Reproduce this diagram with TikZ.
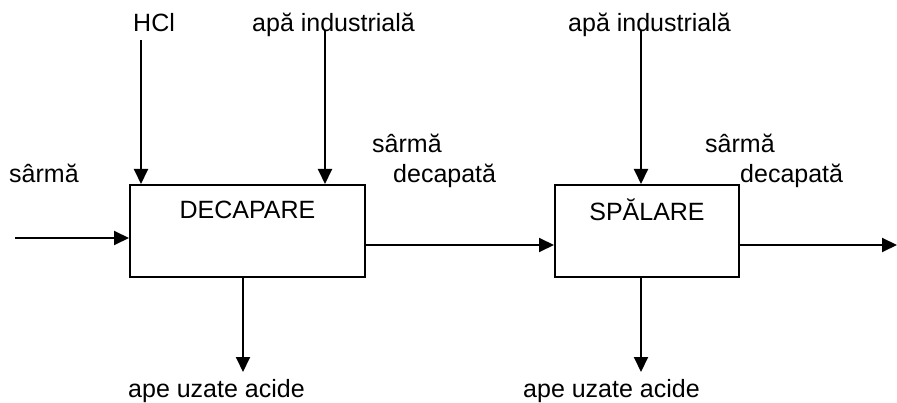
\documentclass[tikz,border=0pt]{standalone}
\usepackage{fontspec}
\setmainfont{Liberation Sans}
\usetikzlibrary{arrows.meta}
\begin{document}
\begin{tikzpicture}[x=1pt,y=-1pt,
  lbl/.style={inner sep=0pt,anchor=base west,font=\fontsize{25}{30}\selectfont},
  proc/.style={draw,line width=2pt,minimum width=235pt,minimum height=92pt,inner sep=0pt},
  flow/.style={line width=2pt,-{Triangle[length=15pt,width=14pt]}}]
\useasboundingbox (0,0) rectangle (897,403);
% boxes
\node[proc] (dec) at (247.5,231) {};
\node[proc,minimum width=184pt] (spa) at (647,231) {};
\node[lbl,anchor=base] (dect) at (247.5,219) {DECAPARE};
\node[lbl,anchor=base] (spat) at (647,221) {SPĂLARE};
% labels
\node[lbl] (hcl) at (133,32) {HCl};
\node[lbl] (apa1) at (252,32) {apă industrială};
\node[lbl] (apa2) at (568,32) {apă industrială};
\node[lbl] (sin) at (9,183) {sârmă};
\node[lbl] (s1a) at (372,153) {sârmă};
\node[lbl] (s1b) at (393,183) {decapată};
\node[lbl] (s2a) at (705,153) {sârmă};
\node[lbl] (s2b) at (740,183) {decapată};
\node[lbl] (au1) at (128,397) {ape uzate acide};
\node[lbl] (au2) at (523,397) {ape uzate acide};
% coordinates
\coordinate (hclS) at (141,40);
\coordinate (apa1S) at (325,30);
\coordinate (apa2S) at (641,30);
\coordinate (inS) at (15,238);
\coordinate (outE) at (897,245);
\coordinate (au1E) at (243,372);
\coordinate (au2E) at (641,372);
% arrows
\draw[flow] (hclS) -- (hclS |- dec.north);
\draw[flow] (apa1S) -- (apa1S |- dec.north);
\draw[flow] (apa2S) -- (apa2S |- spa.north);
\draw[flow] (inS) -- (inS -| dec.west);
\draw[flow] (dec.east |- 0,245) -- (spa.west |- 0,245);
\draw[flow] (spa.east |- 0,245) -- (outE);
\draw[flow] (au1E |- dec.south) -- (au1E);
\draw[flow] (au2E |- spa.south) -- (au2E);
\end{tikzpicture}
\end{document}
